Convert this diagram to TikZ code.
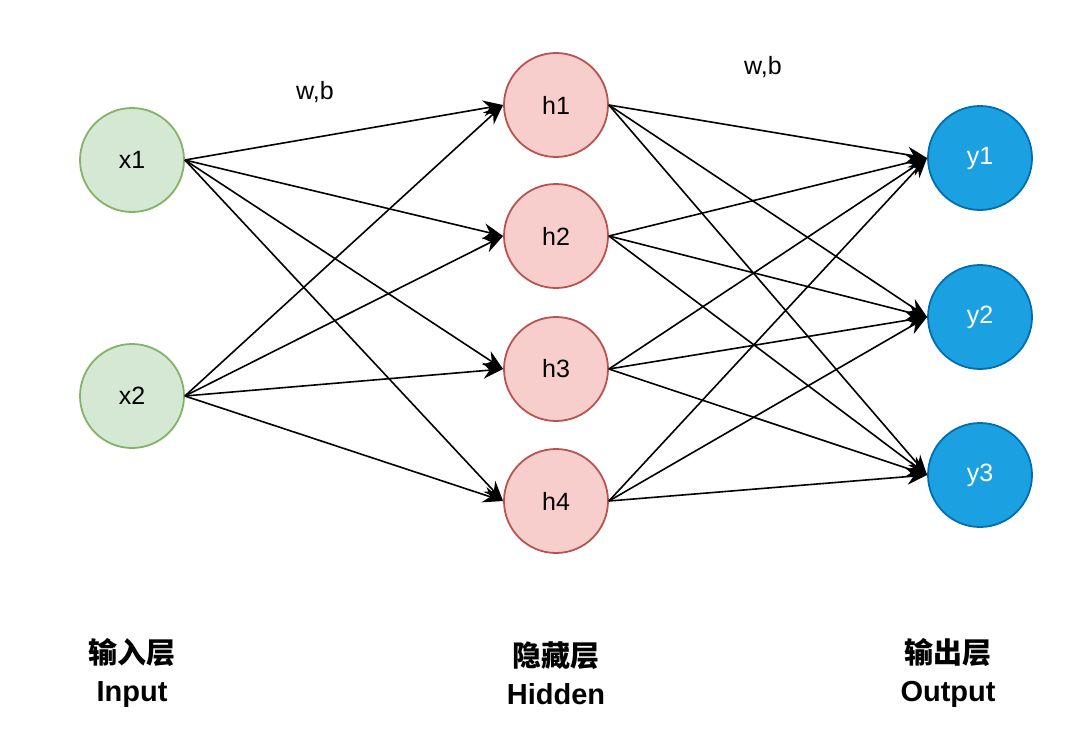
\documentclass[tikz,border=0pt]{standalone}
\usepackage{fontspec}
\setmainfont{Liberation Sans}
\newfontfamily\cjk{Noto Sans CJK SC}
\usetikzlibrary{arrows.meta}

\tikzset{every path/.style={line width=1.6pt}}

\begin{document}
\begin{tikzpicture}[x=1pt,y=-1pt,font=\fontsize{25}{30}\selectfont]
    \useasboundingbox (0,0) rectangle (1080,740);
    \tikzset{unit/.style={circle,draw,line width=1.8pt,minimum size=104pt,inner sep=0pt},
      inp/.style={unit,fill={rgb,255:red,213;green,232;blue,212},draw={rgb,255:red,130;green,179;blue,102}},
      hid/.style={unit,fill={rgb,255:red,248;green,206;blue,204},draw={rgb,255:red,184;green,84;blue,80}},
      outp/.style={unit,fill={rgb,255:red,27;green,161;blue,226},draw={rgb,255:red,0;green,110;blue,175},text=white},
      link/.style={-{Stealth[length=20pt,width=16pt]}},
      layer/.style={align=center,font=\fontsize{29}{38}\selectfont\bfseries}}
    \node[inp] (x1) at (132,160) {x1};
    \node[inp] (x2) at (132,396) {x2};
    \node[hid] (h1) at (556,105) {h1};
    \node[hid] (h2) at (556,236) {h2};
    \node[hid] (h3) at (556,369) {h3};
    \node[hid] (h4) at (556,501) {h4};
    \node[outp] (y1) at (980,158) {y1};
    \node[outp] (y2) at (980,317) {y2};
    \node[outp] (y3) at (980,475) {y3};
    \node (wb1) at (315,92) {w,b};
    \node (wb2) at (763,67) {w,b};
    \node[layer] (lin) at (132,673) {{\cjk\bfseries 输入层}\\Input};
    \node[layer] (lhid) at (556,673) {{\cjk\bfseries 隐藏层}\\Hidden};
    \node[layer] (lout) at (948,673) {{\cjk\bfseries 输出层}\\Output};
    \foreach \i in {1,2}
      \foreach \j in {1,...,4}
        \draw[link] (x\i.east) -- (h\j.west);
    \foreach \j in {1,...,4}
      \foreach \k in {1,2,3}
        \draw[link] (h\j.east) -- (y\k.west);
  \end{tikzpicture}
\end{document}
